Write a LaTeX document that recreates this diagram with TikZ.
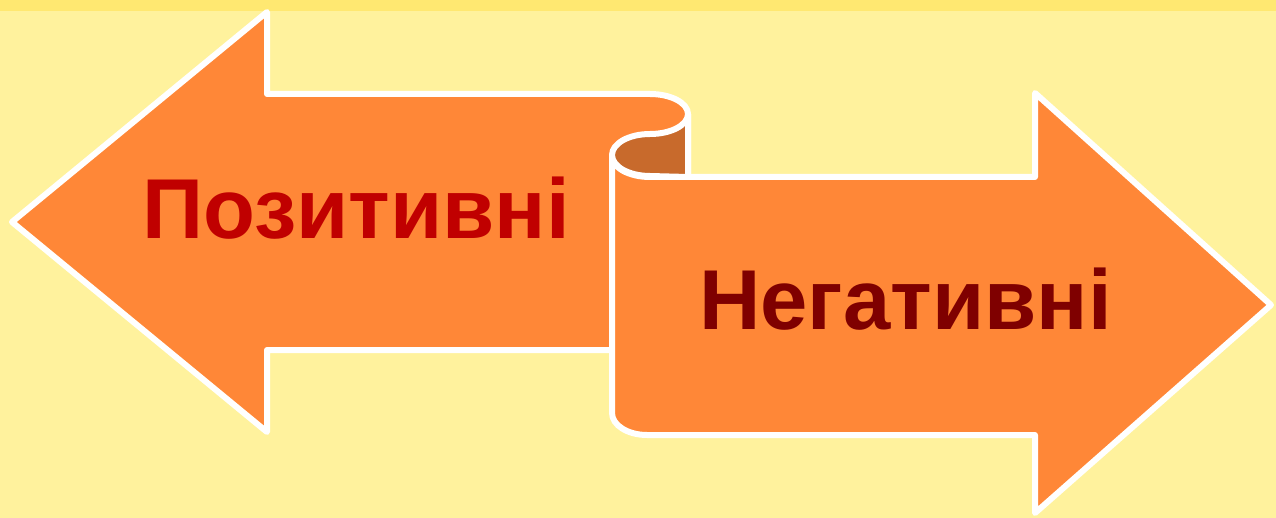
\documentclass[tikz,border=0pt]{standalone}
\usepackage{fontspec}
\setmainfont{Liberation Sans}
\definecolor{bgyellow}{HTML}{FFF29D}
\definecolor{stripyellow}{HTML}{FFE871}
\definecolor{arroworange}{HTML}{FF8737}
\definecolor{curlbrown}{HTML}{C86A2C}
\definecolor{posred}{HTML}{C00000}
\definecolor{negred}{HTML}{7F0000}
\tikzset{
  banner/.style={fill=arroworange, draw=white, line width=6pt, line join=round},
  curl/.style={fill=curlbrown, draw=white, line width=6pt, line join=round},
  label/.style={font=\bfseries\fontsize{85}{90}\selectfont, inner sep=0pt, anchor=base west}
}

\begin{document}
\begin{tikzpicture}[x=1pt,y=-1pt]

            % background
            \fill[bgyellow] (0,0) rectangle (1276,518);
            \fill[stripyellow] (0,0) rectangle (1276,11);
            \useasboundingbox (0,0) rectangle (1276,518);

            % left arrow
            \draw[banner] (12,222)
            -- (267,12)
            -- (267,94)
            -- (650,94)
            arc[start angle=-90, end angle=0, x radius=38, y radius=20]
            -- (688,350)
            -- (267,350)
            -- (267,432)
            -- cycle;

            % right arrow
            \draw[banner] (612,156)
            arc[start angle=180, end angle=90, x radius=38, y radius=21]
            -- (1035,177)
            -- (1035,93)
            -- (1271,305)
            -- (1035,513)
            -- (1035,435)
            -- (647,435)
            arc[start angle=90, end angle=180, x radius=35, y radius=22]
            -- cycle;

            % back of the scroll
            \draw[curl] (688,114)
            arc[start angle=0, end angle=90, x radius=38, y radius=20]
            arc[start angle=-90, end angle=-180, x radius=38, y radius=21]
            arc[start angle=180, end angle=90, x radius=38, y radius=21]
            -- (688,177)
            -- cycle;

            \node[label, text=posred] (pos) at (142,239) {Позитивні};
            \node[label, text=negred] (neg) at (699,330) {Негативні};

\end{tikzpicture}
\end{document}
